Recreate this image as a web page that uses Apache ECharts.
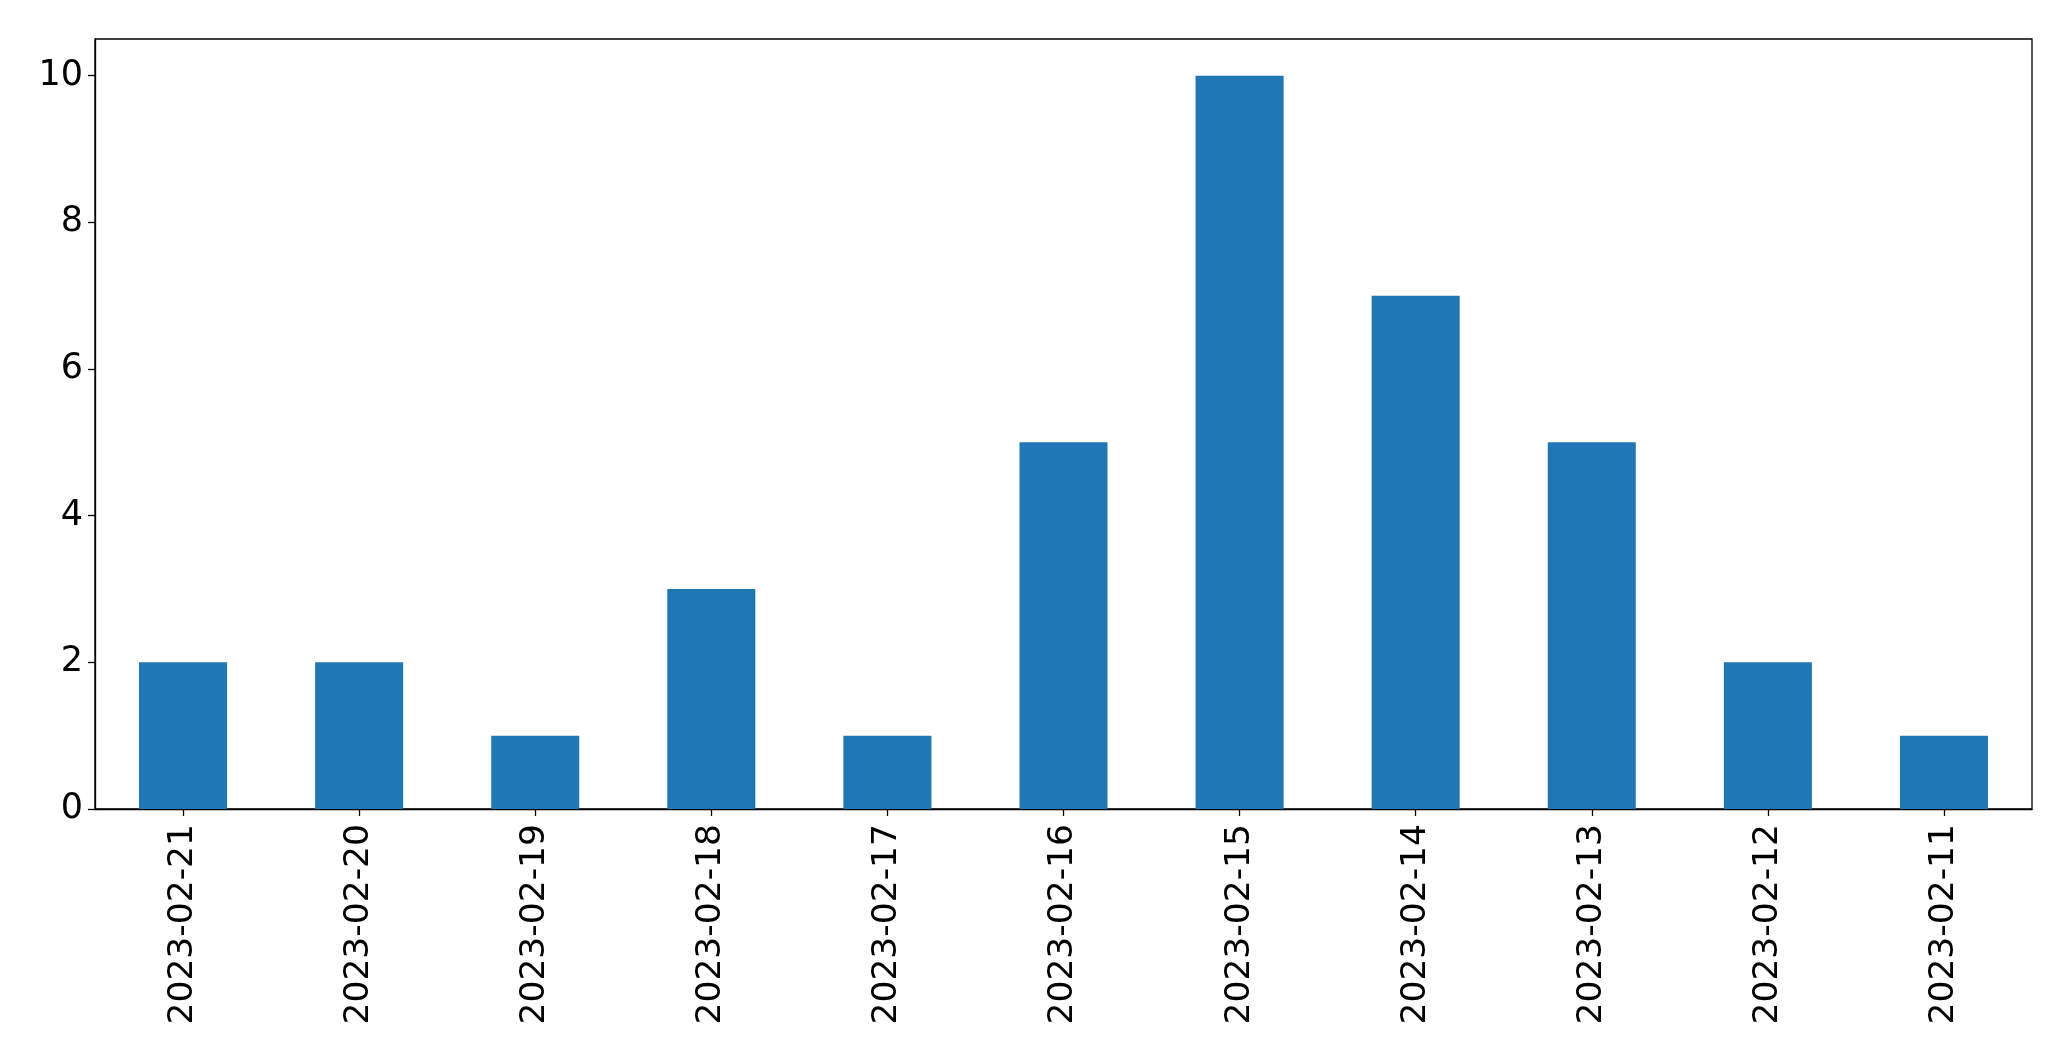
<!DOCTYPE html>
<html>
<head>
<meta charset="utf-8">
<script src="https://cdn.jsdelivr.net/npm/echarts@6/dist/echarts.min.js"></script>
<style>html,body{margin:0;padding:0;background:#fff}#c{width:2071px;height:1061px}</style>
</head>
<body>
<div id="c"></div>
<script>
const categories = ['2023-02-21','2023-02-20','2023-02-19','2023-02-18','2023-02-17','2023-02-16','2023-02-15','2023-02-14','2023-02-13','2023-02-12','2023-02-11'];
const counts = [2,2,1,3,1,5,10,7,5,2,1];
const yTicks = [0,2,4,6,8,10];

const chart = echarts.init(document.getElementById('c'), null, {renderer:'canvas'});
const font = 'DejaVu Sans';
chart.setOption({
  animation:false,
  backgroundColor:'#ffffff',
  grid:{left:95,right:39,top:39,bottom:252,show:true,borderColor:'#000',borderWidth:1.3,backgroundColor:'transparent'},
  xAxis:{
    type:'category',
    data:categories,
    axisLine:{show:true,lineStyle:{color:'#000',width:1.3}},
    axisTick:{show:true,alignWithLabel:true,length:7,lineStyle:{color:'#000',width:1.3}},
    axisLabel:{rotate:90,margin:15,fontFamily:font,fontSize:34.5,color:'#000',interval:0},
    splitLine:{show:false}
  },
  yAxis:{
    type:'value',
    min:0,max:10.5,interval:2,
    axisLine:{show:true,lineStyle:{color:'#000',width:1.3}},
    axisTick:{show:true,length:7,customValues:yTicks,lineStyle:{color:'#000',width:1.3}},
    axisLabel:{margin:12,fontFamily:font,fontSize:35,color:'#000',customValues:yTicks},
    splitLine:{show:false}
  },
  series:[{
    type:'bar',
    data:counts,
    barWidth:'50%',
    itemStyle:{color:'#1f77b4'}
  }]
});
</script>
</body>
</html>
